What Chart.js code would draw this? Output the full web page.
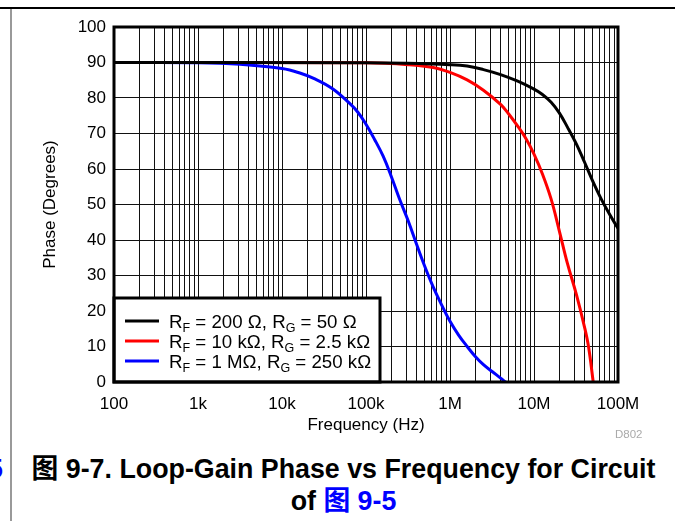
<!DOCTYPE html>
<html>
<head>
<meta charset="utf-8">
<script src="https://cdn.jsdelivr.net/npm/chart.js@4"></script>
<style>
  body { margin: 0; background: #fff; width: 675px; height: 521px; overflow: hidden; position: relative;
         font-family: "Liberation Sans", Arial, "Noto Sans CJK SC", sans-serif; }
  #topRule { position: absolute; left: 0; top: 7px; width: 675px; height: 2px; background: #000; }
  #sideRule { position: absolute; left: 10px; top: 9px; width: 2px; height: 512px; background: #999; }
  #wrap { position: absolute; left: 0; top: 0; width: 675px; height: 445px; }
  #code { position: absolute; left: 615px; top: 428px; font-size: 11.5px; line-height: 12px; color: #aaa; }
  #caption { position: absolute; left: 12px; width: 663px; top: 453px; text-align: center; font-weight: bold;
             font-size: 26.8px; line-height: 32px; color: #000; }
  #caption .ref { color: #00f; }
  #cut { position: absolute; left: -12px; top: 453px; font-weight: bold; font-size: 26.8px; line-height: 32px; color: #00f; }
</style>
</head>
<body>
<div id="topRule"></div>
<div id="sideRule"></div>
<div id="cut">5</div>
<div id="wrap"><canvas id="phaseChart"></canvas></div>
<div id="code">D802</div>
<div id="caption">图 9-7. Loop-Gain Phase vs Frequency for Circuit<br>of <span class="ref">图 9-5</span></div>
<script>
// values (frequency in Hz, phase in degrees)
const blackFreq  = [100, 1e5, 3e5, 1e6, 1.6e6, 2.5e6, 4e6, 6.3e6, 1e7, 1.26e7, 1.6e7, 2e7, 2.5e7, 3.2e7, 4e7, 5e7, 6.3e7, 8e7, 1e8];
const blackPhase = [90, 89.95, 89.8, 89.4, 89.0, 88.0, 86.6, 84.8, 82.5, 81.0, 78.8, 75.8, 71.8, 67.0, 61.9, 56.6, 51.6, 47.1, 43.3];

const redFreq  = [100, 1e5, 3.16e5, 6.3e5, 1e6, 1.6e6, 2.5e6, 4e6, 5e6, 6.3e6, 8e6, 1e7, 1.26e7, 1.6e7, 2e7, 2.5e7, 3.2e7, 4e7, 4.47e7, 5.07e7];
const redPhase = [90, 89.9, 89.4, 88.6, 87.2, 85.1, 82.2, 78.2, 75.5, 72.3, 68.6, 64.2, 58.6, 51.5, 42.6, 33.4, 24.6, 15.4, 9.8, 0];

const blueFreq  = [100, 1e3, 3.16e3, 1e4, 1.6e4, 2.5e4, 4e4, 6.3e4, 8e4, 1e5, 1.26e5, 1.6e5, 2e5, 2.5e5, 3.2e5, 4e5, 5e5,
                   6.3e5, 8e5, 1e6, 1.26e6, 1.6e6, 2e6, 2.5e6, 3.2e6, 4e6, 4.57e6];
const bluePhase = [90, 89.95, 89.5, 88.3, 87.1, 85.3, 82.6, 78.6, 76.0, 72.6, 68.4, 63.6, 57.9, 51.6, 45.2, 38.8, 32.6,
                   26.8, 21.6, 17.1, 13.3, 10.0, 7.2, 4.9, 2.9, 1.1, 0];

const seriesNames  = ['R_F = 200 Ω, R_G = 50 Ω', 'R_F = 10 kΩ, R_G = 2.5 kΩ', 'R_F = 1 MΩ, R_G = 250 kΩ'];
const seriesColors = ['#000000', '#ff0000', '#0000ff'];

const decadeValues = [100, 1e3, 1e4, 1e5, 1e6, 1e7, 1e8];
const decadeLabels = ['100', '1k', '10k', '100k', '1M', '10M', '100M'];

// grid positions: 1..9 in every decade
const xGridValues = [];
for (let i = 0; i < decadeValues.length - 1; i++) {
  for (let m = 1; m < 10; m++) xGridValues.push(m * decadeValues[i]);
}
xGridValues.push(decadeValues[decadeValues.length - 1]);

function toPoints(xs, ys) {
  return xs.map((x, i) => ({ x: x, y: ys[i] }));
}

Chart.defaults.font.family = '"Liberation Sans", Arial, sans-serif';
Chart.defaults.color = '#000';

// name with _X subscripts
function drawSubText(ctx, text, x, y) {
  const parts = text.split(/_(.)/);
  parts.forEach((p, i) => {
    const sub = i % 2 === 1;
    ctx.font = sub ? '12.5px "Liberation Sans", Arial, sans-serif' : '18.7px "Liberation Sans", Arial, sans-serif';
    ctx.fillText(p, x, sub ? y + 4 : y);
    x += ctx.measureText(p).width;
  });
}

const legendBox = {
  id: 'legendBox',
  afterDatasetsDraw(chart) {
    const { ctx, chartArea: a } = chart;
    const w = 266, h = 84;
    const left = a.left, top = a.bottom - h;
    ctx.save();
    ctx.fillStyle = '#fff';
    ctx.fillRect(left, top, w, h);
    ctx.lineWidth = 3;
    ctx.strokeStyle = '#000';
    ctx.strokeRect(left, top, w, h);
    ctx.textBaseline = 'alphabetic';
    chart.data.datasets.forEach((ds, i) => {
      const y = top + 23 + i * 20;
      ctx.strokeStyle = ds.borderColor;
      ctx.lineWidth = 3;
      ctx.beginPath();
      ctx.moveTo(left + 11, y);
      ctx.lineTo(left + 45, y);
      ctx.stroke();
      ctx.fillStyle = '#000';
      drawSubText(ctx, seriesNames[i], left + 55, y + 6.5);
    });
    // plot frame
    ctx.lineWidth = 3;
    ctx.strokeStyle = '#000';
    ctx.strokeRect(a.left, a.top, a.width, a.height);
    ctx.restore();
  }
};

const ctx = document.getElementById('phaseChart').getContext('2d');
const phaseChart = new Chart(ctx, {
  type: 'line',
  data: {
    datasets: [
      { label: seriesNames[0], data: toPoints(blackFreq, blackPhase), borderColor: seriesColors[0] },
      { label: seriesNames[1], data: toPoints(redFreq, redPhase), borderColor: seriesColors[1] },
      { label: seriesNames[2], data: toPoints(blueFreq, bluePhase), borderColor: seriesColors[2] }
    ]
  },
  options: {
    responsive: true,
    maintainAspectRatio: false,
    animation: false,
    layout: { padding: { left: 36, right: 57, top: 27, bottom: 5 } },
    elements: {
      point: { radius: 0 },
      line: { borderWidth: 3, tension: 0.4, fill: false, borderJoinStyle: 'round', capBezierPoints: true }
    },
    plugins: {
      legend: { display: false },
      tooltip: { enabled: false }
    },
    scales: {
      x: {
        type: 'logarithmic',
        min: 100,
        max: 1e8,
        afterBuildTicks: scale => { scale.ticks = xGridValues.map(v => ({ value: v })); },
        afterFit: scale => { scale.height = 58; },
        ticks: {
          autoSkip: false,
          maxRotation: 0,
          padding: 12,
          font: { size: 17 },
          callback: v => {
            const k = decadeValues.indexOf(v);
            return k >= 0 ? decadeLabels[k] : '';
          }
        },
        grid: { color: '#111', lineWidth: 1, drawTicks: false },
        border: { display: false },
        title: { display: true, text: 'Frequency (Hz)', font: { size: 17 }, padding: { top: 4, bottom: 4 } }
      },
      y: {
        min: 0,
        max: 100,
        afterFit: scale => { scale.width = 78; },
        ticks: { stepSize: 10, padding: 8, font: { size: 17 } },
        grid: { color: '#111', lineWidth: 1, drawTicks: false },
        border: { display: false },
        title: { display: true, text: 'Phase (Degrees)', font: { size: 17 }, padding: { top: 4, bottom: 4 } }
      }
    }
  },
  plugins: [legendBox]
});
</script>
</body>
</html>
